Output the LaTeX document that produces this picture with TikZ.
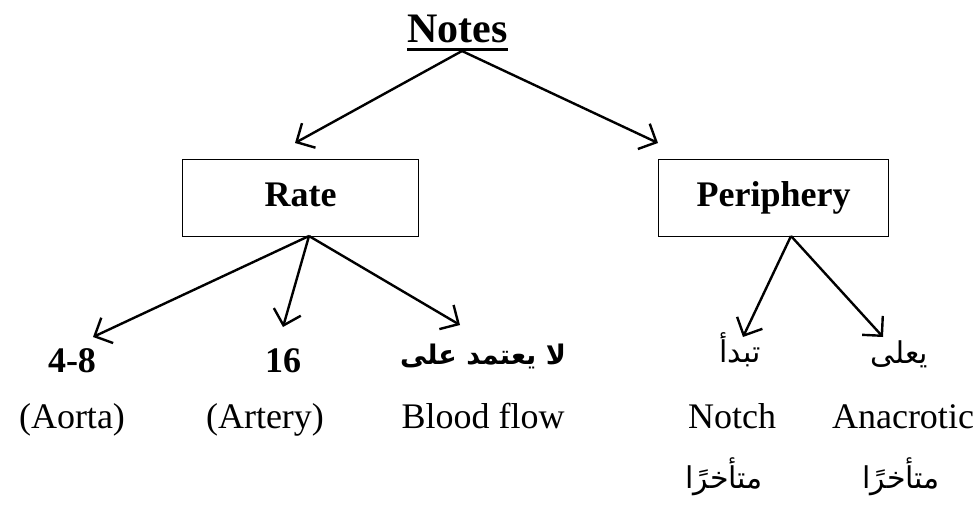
\documentclass[tikz,border=0pt]{standalone}
\usepackage{fontspec}
\setmainfont{Liberation Serif}
\newfontfamily\arabicfont[Script=Arabic]{DejaVu Sans}
\TeXXeTstate=1
\usetikzlibrary{arrows.meta}
\begin{document}
\begin{tikzpicture}[x=1pt,y=-1pt,
  every node/.style={inner sep=0pt,font=\fontsize{36}{40}\selectfont},
  box/.style={draw,line width=1.4pt,minimum width=236pt,minimum height=77pt,
    anchor=north west,text height=25pt,text depth=8pt,
    font=\fontsize{36}{40}\selectfont\bfseries},
  link/.style={line width=2.4pt,-{Straight Barb[length=14pt,width=28pt,line width=2.4pt]}},
  bold/.style={font=\fontsize{36}{40}\selectfont\bfseries},
  ar/.style={font=\fontsize{30}{34}\selectfont\arabicfont},
  arb/.style={font=\fontsize{27}{32}\selectfont\arabicfont\bfseries}]
\useasboundingbox (0,0) rectangle (977,504);

% title
\node[anchor=base,font=\fontsize{42}{46}\selectfont\bfseries] (notes) at (457.5,42) {Notes};
\draw[line width=3pt] ([yshift=-7pt]notes.base west) -- ([yshift=-7pt]notes.base east);
\coordinate (root) at (462,51);

% boxes
\node[box] (rate) at (182,159) {Rate};
\node[box,minimum width=230pt] (peri) at (658,159) {Periphery};

\coordinate (tipA) at (295,143);
\coordinate (tipB) at (658,143);
\draw[link] (root) -- (tipA);
\draw[link] (root) -- (tipB);

% first row
\node[bold,anchor=base] (r1a) at (72,372) {4-8};
\node[bold,anchor=base] (r1b) at (283,372) {16};
\node[arb,anchor=base] (r1c) at (483,364) {\beginR لا يعتمد على\endR};
\node[ar,anchor=base] (r1d) at (740,362) {\beginR تبدأ\endR};
\node[ar,anchor=base] (r1e) at (899,363) {\beginR يعلى\endR};

% second row
\node[anchor=base] (r2a) at (72,428) {(Aorta)};
\node[anchor=base] (r2b) at (265,428) {(Artery)};
\node[anchor=base] (r2c) at (483,428) {Blood flow};
\node[anchor=base] (r2d) at (732,428) {Notch};
\node[anchor=base] (r2e) at (903,428) {Anacrotic};

% third row
\node[ar,anchor=base] (r3d) at (724,488) {\beginR متأخرًا\endR};
\node[ar,anchor=base] (r3e) at (901,488) {\beginR متأخرًا\endR};

% branches
\coordinate (rateRoot) at (309,236);
\coordinate (periRoot) at (791,236);
\coordinate (tip1) at (93,337);
\coordinate (tip2) at (283,327);
\coordinate (tip3) at (460,325);
\coordinate (tip4) at (743,337);
\coordinate (tip5) at (883,337);
\draw[link] (rateRoot) -- (tip1);
\draw[link] (rateRoot) -- (tip2);
\draw[link] (rateRoot) -- (tip3);
\draw[link] (periRoot) -- (tip4);
\draw[link] (periRoot) -- (tip5);
\end{tikzpicture}
\end{document}
